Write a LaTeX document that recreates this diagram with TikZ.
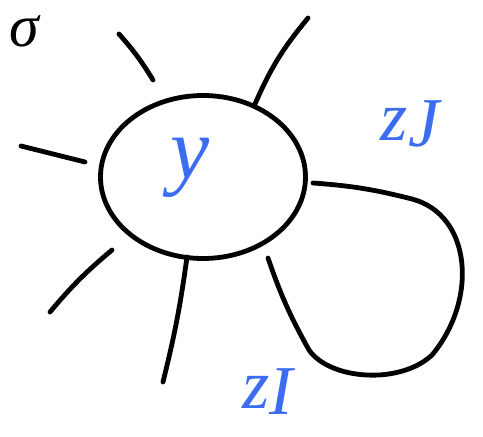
\documentclass[tikz,border=0pt]{standalone}
\usepackage{fontspec}
\setmainfont{Liberation Serif}
\usetikzlibrary{shapes.geometric}
\definecolor{inkblue}{HTML}{3C6DF0}
\begin{document}
\begin{tikzpicture}[x=1pt,y=-1pt,
  ink/.style={line width=4.8pt,line cap=round,line join=round},
  lab/.style={text=inkblue,font=\fontsize{70}{70}\selectfont\itshape},
  sig/.style={text=black,font=\fontsize{60}{60}\selectfont\itshape}]
\useasboundingbox (0,0) rectangle (483,437);
\node[ellipse,draw,ink,minimum width=205pt,minimum height=163pt,inner sep=0pt] (y) at (203,177) {};
\node[lab,font=\fontsize{88}{88}\selectfont\itshape] (ly) at (190,168) {y};
\node[lab] (lzj) at (410,124) {z\raisebox{-6pt}{J}};
\node[lab] (lzi) at (268,392) {z\raisebox{-6pt}{I}};
\node[sig,anchor=base,inner sep=0pt] (ls) at (24,46) {σ};
% spokes
\coordinate (s1a) at (119,34);  \coordinate (s1b) at (153,80);
\coordinate (s2a) at (308,18);  \coordinate (s2b) at (255,104);
\coordinate (s3a) at (21,146);  \coordinate (s3b) at (85,162);
\coordinate (s4a) at (50,312);  \coordinate (s4b) at (112,250);
\coordinate (s5a) at (163,382); \coordinate (s5b) at (187,257);
\draw[ink] (s1a) to[bend left=5] (s1b);
\draw[ink] (s2a) to[bend right=8] (s2b);
\draw[ink] (s3a) -- (s3b);
\draw[ink] (s4a) to[bend left=5] (s4b);
\draw[ink] (s5a) to[bend right=3] (s5b);
% self loop
\coordinate (la) at (313,183);
\coordinate (lb) at (412,199);
\coordinate (lc) at (309,350);
\coordinate (ld) at (268,258);
\draw[ink] (la) to[bend left=5] (lb)
  .. controls (472,215) and (478,300) .. (432,355)
  .. controls (400,385) and (330,380) .. (lc)
  to[bend left=5] (ld);
\end{tikzpicture}
\end{document}
